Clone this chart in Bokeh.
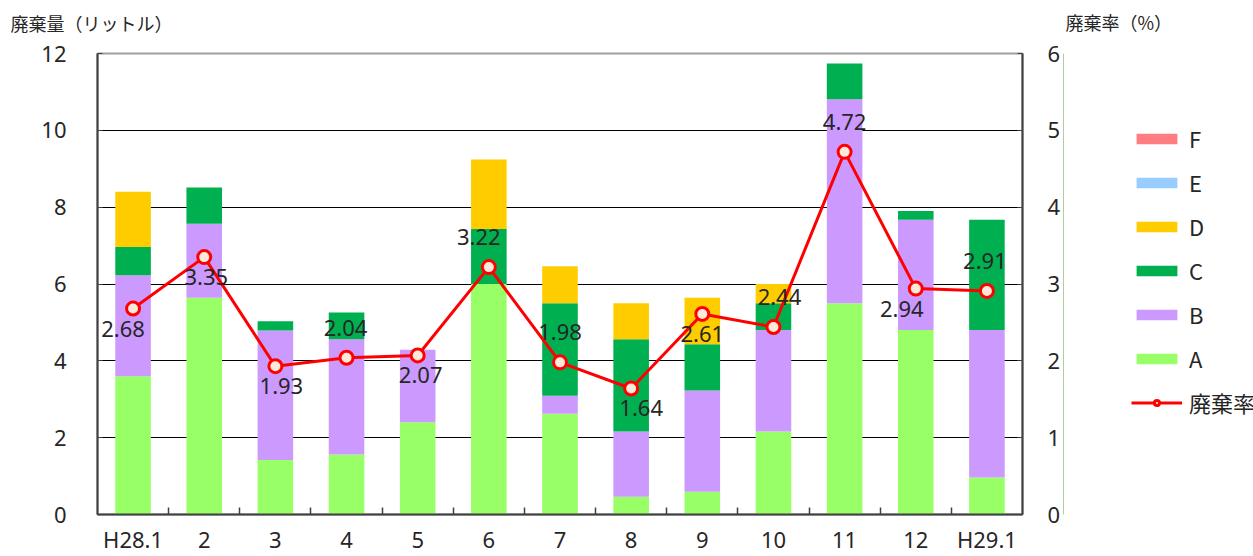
from bokeh.plotting import figure
from bokeh.layouts import row
from bokeh.models import (Range1d, LinearAxis, FixedTicker, Legend, LegendItem,
                          ColumnDataSource, Label)
from bokeh.embed import file_html
from bokeh.resources import INLINE
from bokeh.core.properties import value

# ---- data ----
months = ["H28.1", "2", "3", "4", "5", "6", "7", "8", "9", "10", "11", "12", "H29.1"]
series_a = [3.60, 5.64, 1.42, 1.56, 2.40, 6.00, 2.62, 0.46, 0.59, 2.16, 5.50, 4.80, 0.96]
series_b = [2.63, 1.93, 3.37, 3.00, 1.89, 0.00, 0.47, 1.70, 2.64, 2.64, 5.31, 2.87, 3.84]
series_c = [0.73, 0.94, 0.24, 0.70, 0.00, 1.43, 2.41, 2.40, 1.20, 0.70, 0.93, 0.23, 2.87]
series_d = [1.44, 0.00, 0.00, 0.00, 0.00, 1.81, 0.96, 0.94, 1.21, 0.50, 0.00, 0.00, 0.00]
series_e = [0.0] * 13
series_f = [0.0] * 13
rate = [2.68, 3.35, 1.93, 2.04, 2.07, 3.22, 1.98, 1.64, 2.61, 2.44, 4.72, 2.94, 2.91]
left_title = "廃棄量（リットル）"
right_title = "廃棄率（%）"
rate_name = "廃棄率"

# ---- styles ----
colors = {"A": "#99FF66", "B": "#CC99FF", "C": "#00B050", "D": "#FFCC00",
          "E": "#99CCFF", "F": "#FF7C80"}
label_dy = [20, 20, 20, -30, 20, -30, -30, 20, 20, -30, -30, 20, -30]
label_dx = [-10, 2, 6, -1, 3, -10, 0, 10, 0, 6, 0, -14, -2]

NUM_FONT = "Noto Sans"
JP_FONT = "Noto Sans CJK JP"
TXT = "#262626"
H = 556
MAIN_W, LEG_W = 1060, 193
TOP, BOTTOM, FRAME_H = 53, 42, 461

x = list(range(1, len(months) + 1))
src = ColumnDataSource(dict(x=x, A=series_a, B=series_b, C=series_c, D=series_d,
                            E=series_e, F=series_f))

p = figure(width=MAIN_W, height=H, frame_width=925, frame_height=FRAME_H,
           output_backend="svg", toolbar_location=None,
           x_range=Range1d(0.5, len(months) + 0.5), y_range=Range1d(0, 12),
           min_border_left=97, min_border_right=0, min_border_top=TOP,
           min_border_bottom=BOTTOM)
p.extra_y_ranges = {"rate": Range1d(0, 6)}
p.outline_line_color = "#A0A0A0"
p.outline_line_width = 2

names = ["A", "B", "C", "D", "E", "F"]
p.vbar_stack(names, x="x", width=0.5, source=src,
             color=[colors[n] for n in names], line_color=None)

p.line(x, rate, y_range_name="rate", line_color="#FF0000", line_width=3)
p.scatter(x, rate, y_range_name="rate", size=13, fill_color="#FDE9D9",
          line_color="#FF0000", line_width=3)

lab_src = ColumnDataSource(dict(x=x, y=rate, t=["%.2f" % r for r in rate],
                                dx=label_dx, dy=label_dy))
p.text(x="x", y="y", text="t", source=lab_src, y_range_name="rate",
       x_offset="dx", y_offset="dy", text_align="center", text_baseline="middle",
       text_font=value(NUM_FONT), text_font_size="22px", text_color=TXT)

p.xgrid.visible = False
p.ygrid.ticker = FixedTicker(ticks=[2, 4, 6, 8, 10])
p.ygrid.grid_line_color = "#000000"
p.ygrid.grid_line_width = 1

ax = p.xaxis[0]
ax.ticker = FixedTicker(ticks=x, minor_ticks=[i + 0.5 for i in x[:-1]])
ax.major_label_overrides = {i: m for i, m in zip(x, months)}
ax.major_tick_line_color = None
ax.major_tick_in = 0
ax.major_tick_out = 0
ax.minor_tick_in = 7
ax.minor_tick_out = 0
ax.minor_tick_line_color = "#404040"
ax.minor_tick_line_width = 1.5
ax.axis_line_color = "#404040"
ax.axis_line_width = 2
ax.major_label_standoff = 9
ax.major_label_text_line_height = 1.0

ay = p.yaxis[0]
ay.ticker = FixedTicker(ticks=[0, 2, 4, 6, 8, 10, 12])
ay.major_tick_in = 5
ay.major_tick_out = 0
ay.minor_tick_line_color = None
ay.axis_line_color = "#404040"
ay.axis_line_width = 2
ay.major_label_standoff = 31

ar = LinearAxis(y_range_name="rate", ticker=FixedTicker(ticks=[0, 1, 2, 3, 4, 5, 6]))
ar.major_tick_in = 5
ar.major_tick_out = 0
ar.minor_tick_line_color = None
ar.axis_line_color = "#404040"
ar.axis_line_width = 2
ar.major_label_standoff = 25
p.add_layout(ar, "right")

for a in (ax, ay, ar):
    a.major_label_text_font = NUM_FONT
    a.major_label_text_font_size = "22px"
    a.major_label_text_color = TXT
for a in (ay, ar):
    a.major_tick_line_color = "#404040"

# left axis title, in the top side panel (not clipped to the frame)
p.add_layout(Label(x=-87, y=31, x_units="screen", y_units="screen", text=left_title,
                   text_align="left", text_baseline="middle", text_font=JP_FONT,
                   text_font_size="18px", text_color=TXT), "above")

# ---- legend panel (own small figure to the right, same styles as the chart) ----
lg = figure(width=LEG_W, height=H, frame_width=LEG_W, frame_height=FRAME_H,
            output_backend="svg", toolbar_location=None,
            x_axis_type=None, y_axis_type=None, outline_line_color=None,
            min_border_left=0, min_border_right=0, min_border_top=TOP,
            min_border_bottom=BOTTOM, x_range=Range1d(0, 1), y_range=Range1d(0, 1))
lg.grid.visible = False
# legend-only glyphs, kept outside the visible range
swatch = {n: lg.vbar(x=[-5], top=[1], width=0.5, color=colors[n], line_color=None)
          for n in ["F", "E", "D", "C", "B", "A"]}
leg_line = lg.line(x=[-6, -5], y=[0.5, 0.5], line_color="#FF0000", line_width=3)
leg_pts = lg.scatter(x=[-5], y=[0.5], size=13, fill_color="#FDE9D9",
                     line_color="#FF0000", line_width=3)
items = [LegendItem(label=n, renderers=[swatch[n]]) for n in ["F", "E", "D", "C", "B", "A"]]
items.append(LegendItem(label=rate_name, renderers=[leg_line, leg_pts]))
leg = Legend(items=items, location=(68, 96), orientation="vertical",
             glyph_width=51, glyph_height=13, label_height=20, spacing=12,
             label_standoff=7, padding=0, margin=0, border_line_color=None,
             background_fill_alpha=0, label_text_font=JP_FONT,
             label_text_font_size="22px", label_text_color=TXT)
lg.add_layout(leg)

# right axis title, in the legend figure's top panel
lg.add_layout(Label(x=2, y=32, x_units="screen", y_units="screen", text=right_title,
                    text_align="left", text_baseline="middle", text_font=JP_FONT,
                    text_font_size="18px", text_color=TXT), "above")

layout = row(p, lg, spacing=0)
open("out.html", "w").write(file_html(layout, INLINE))
